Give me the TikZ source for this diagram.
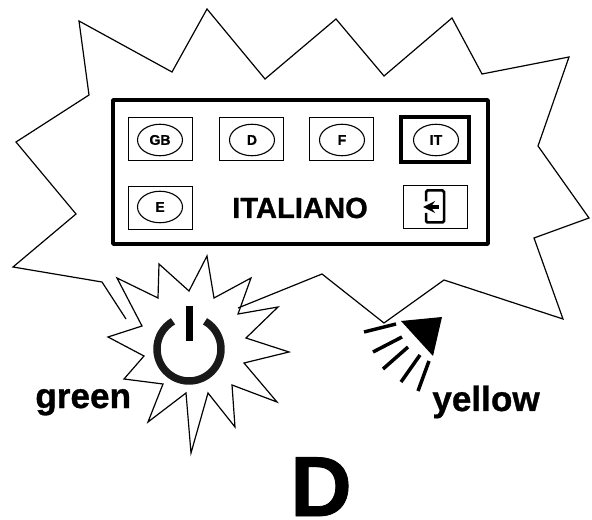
\documentclass[tikz,border=0pt]{standalone}
\usepackage{fontspec}
\setmainfont{Liberation Sans}
\newfontfamily\heavyfont[FakeBold=0.9]{Liberation Sans Bold}
\usetikzlibrary{arrows, positioning, shapes.geometric}

\tikzset{
  keybox/.style={draw, line width=0.022cm, minimum width=1.29cm, minimum height=0.85cm, inner sep=0pt},
  keyoval/.style={draw, ellipse, line width=0.022cm, minimum width=0.9cm, minimum height=0.63cm, inner sep=0pt, font=\heavyfont\fontsize{8}{9}\selectfont},
  burst/.style={line width=0.024cm, line join=miter},
  ray/.style={line width=0.07cm},
  biglabel/.style={inner sep=0pt, font=\heavyfont\fontsize{20}{24}\selectfont},
}

\begin{document}
\begin{tikzpicture}[>=stealth, x=0.02cm, y=-0.02cm]
    \useasboundingbox (0, 0) rectangle (592, 520);

    % outer burst
    \draw[burst] (126, 319) -- (102, 282) -- (13, 267) -- (76, 214) -- (16, 142) -- (89, 95) -- (79, 21)
      -- (172, 72) -- (207, 9) -- (265, 79) -- (336, 19) -- (384, 76) -- (452, 18) -- (482, 74)
      -- (569, 57) -- (538, 146) -- (589, 218) -- (534, 238) -- (563, 319) -- (444, 280)
      -- (384, 323) -- (322, 274) -- (238, 308);

    % panel
    \draw[line width=0.075cm, line join=round] (113, 100) rectangle (488, 244);

    \node[keybox] (gbbox) at (160.5, 139) {};
    \node[keybox] (dbox) at (251.5, 139) {};
    \node[keybox] (fbox) at (341.5, 139) {};
    \node[keybox, line width=0.085cm, minimum width=1.36cm, minimum height=0.9cm] (itbox) at (435, 139.5) {};
    \node[keybox] (ebox) at (160.5, 208) {};
    \node[keybox] (exitbox) at (435.5, 207) {};

    \node[keyoval] (gb) at (160, 140) {GB};
    \node[keyoval] (d) at (252, 140) {D};
    \node[keyoval] (f) at (342, 140) {F};
    \node[keyoval] (it) at (436, 140) {IT};
    \node[keyoval] (e) at (160, 207) {E};

    \node[inner sep=0pt, anchor=base, font=\heavyfont\fontsize{16.6}{18}\selectfont] (lang) at (300, 218) {ITALIANO};

    % exit symbol
    \draw[line width=0.05cm, rounded corners=0.03cm] (426, 201.5) -- (426, 190.5) -- (444, 190.5) -- (444, 222.5) -- (426, 222.5) -- (426, 213);
    \draw[->, line width=0.07cm] (438.5, 207) -- (423, 207);

    % power burst
    \draw[burst] (117, 278) -- (158, 298) -- (159, 264) -- (189, 291) -- (207, 256) -- (214, 298) -- (251, 278)
      -- (238, 314) -- (278, 307) -- (246, 338) -- (289, 352) -- (244, 363) -- (277, 402) -- (232, 385)
      -- (235, 427) -- (208, 393) -- (191, 453) -- (186, 393) -- (148, 422) -- (163, 384) -- (124, 379)
      -- (144, 356) -- (108, 337) -- (142, 326) -- cycle;

    % power symbol
    \draw[line width=0.15cm, black!90] (205, 321.3) arc[start angle=60, end angle=-240, radius=0.64cm];
    \fill (185.5, 306) rectangle (193, 341);

    % lamp
    \fill (401, 321) -- (442, 317) -- (433, 356) -- cycle;
    \draw[ray] (364, 332) -- (396, 324);
    \draw[ray] (373, 352) -- (402, 337);
    \draw[ray] (383, 369) -- (408, 347);
    \draw[ray] (401, 382) -- (420, 355);
    \draw[ray] (418, 391) -- (429, 361);

    \node[biglabel, anchor=base west] (green) at (35, 408) {green};
    \node[biglabel, anchor=base west] (yellow) at (432, 411) {yellow};
    \node[inner sep=0pt, anchor=base, font=\heavyfont\fontsize{48.5}{54}\selectfont] (mode) at (321, 516) {D};
  \end{tikzpicture}
\end{document}
